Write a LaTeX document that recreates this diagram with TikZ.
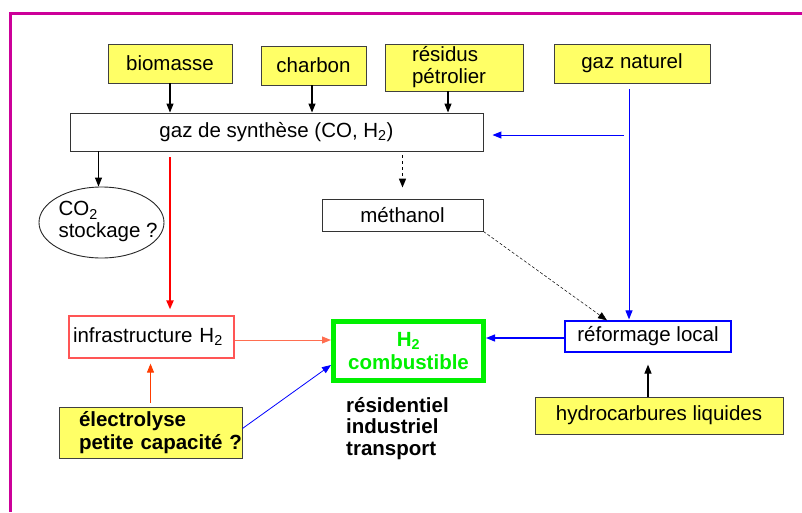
\documentclass[tikz,border=0pt]{standalone}
\usepackage{fontspec}
\setmainfont{Liberation Sans}
\usetikzlibrary{shapes.geometric,arrows.meta,calc}
\definecolor{boxyellow}{RGB}{255,255,102}
\definecolor{framemag}{RGB}{204,0,153}
\definecolor{infrared}{RGB}{255,85,85}
\definecolor{salmon}{RGB}{255,110,80}
\definecolor{orred}{RGB}{255,60,0}
\definecolor{hgreen}{RGB}{0,240,0}
\tikzset{
  yellowbox/.style={draw=black!75, fill=boxyellow, line width=0.9pt, inner sep=0pt, align=center},
  whitebox/.style={draw=black!80, line width=0.9pt, inner sep=0pt, align=center},
  arr/.style={-{Triangle[length=9pt,width=7pt]}, line width=1.2pt},
}
\begin{document}
\begin{tikzpicture}[x=1pt,y=-1pt,font=\fontsize{20.5}{22}\selectfont]
\useasboundingbox (0,0) rectangle (802,512);
\draw[framemag, line width=3pt] (802,13.5) -- (10.5,13.5) -- (10.5,512);

% top sources
\node[yellowbox, minimum width=124pt, minimum height=39pt] (bio) at (170,63.5) {\raisebox{-2pt}{biomasse}};
\node[yellowbox, minimum width=105pt, minimum height=39pt] (cha) at (313.5,65.5) {\raisebox{1pt}{charbon}};
\node[yellowbox, minimum width=138pt, minimum height=47pt, text width=84pt, align=left] (res) at (454,67.5) {résidus\\pétrolier};
\node[yellowbox, minimum width=156pt, minimum height=39pt] (gn) at (632,63.5) {gaz naturel};

% synthesis gas
\node[whitebox, minimum width=413pt, minimum height=38pt] (syn) at (276.5,132) {\raisebox{-2pt}{gaz de synthèse (CO, H\textsubscript{2})}};

% CO2 storage
\node[draw=black!85, line width=0.9pt, ellipse, minimum width=125pt, minimum height=71pt, inner sep=0pt] (co2) at (101.5,222.5)
  {\makebox[86pt][l]{\begin{tabular}{@{}l@{}}CO\textsubscript{2}\\stockage ?\end{tabular}}};

% methanol
\node[whitebox, minimum width=161pt, minimum height=32pt] (meth) at (402.5,215) {méthanol};

% infrastructure
\node[draw=infrared, line width=1.2pt, inner sep=0pt, minimum width=165pt, minimum height=42pt, text width=157pt, align=left] (infra) at (151.5,337) {infrastructure H\textsubscript{2}};

% H2 combustible
\node[draw=hgreen, line width=5pt, inner sep=0pt, minimum width=150pt, minimum height=59pt, align=center, text=hgreen, font=\fontsize{20.5}{23}\selectfont\bfseries] (h2) at (408.5,351) {H\textsubscript{2}\\combustible};

% reformage
\node[draw=blue, line width=1.2pt, inner sep=0pt, minimum width=166pt, minimum height=31pt] (ref) at (648,336.5) {réformage local};

% hydrocarbures
\node[yellowbox, minimum width=248pt, minimum height=37pt] (hc) at (659,415.5) {hydrocarbures liquides};

% electrolyse
\node[yellowbox, minimum width=183pt, minimum height=51pt, text width=183pt, align=left, font=\fontsize{20.5}{23}\selectfont\bfseries] (el) at (150.5,432.5)
  {\hspace*{20pt}électrolyse\\\hspace*{20pt}petite capacité ?};

% uses
\node[anchor=north west, inner sep=0pt, align=left, font=\fontsize{20.5}{21.5}\selectfont\bfseries] (uses) at (346,397) {résidentiel\\industriel\\transport};

% connectors
\draw[arr] (bio.south) -- (bio.south |- syn.north);
\draw[arr] ($(cha.south)+(-1.5,0)$) -- ($(cha.south |- syn.north)+(-1.5,0)$);
\draw[arr] ($(res.south)+(-6,0)$) -- ($(res.south |- syn.north)+(-6,0)$);

\coordinate (gnA) at ($(gn.south)+(-3,6)$);
\coordinate (gnB) at (624,135);
\draw[arr, blue, line width=1pt] (gnA) -- ($(gn.south |- ref.north)+(-3,-1)$);
\draw[arr, blue, line width=1pt] (gnB) -- ($(syn.east)+(9,3)$);

\draw[arr, line width=1pt] ($(syn.south -| co2.north)+(-3,0)$) -- ($(co2.north)+(-3,0)$);
\draw[arr, red, line width=2pt] ($(bio.south |- syn.south)+(0,6)$) -- ($(bio.south |- infra.north)+(0,-6)$);
\draw[arr, dashed, line width=1.6pt] ($(meth.north |- syn.south)+(0,4)$) -- ($(meth.north)+(0,-11)$);
\draw[arr, densely dashed, line width=0.5pt] (meth.south east) -- ($(ref.north)+(-41,0)$);

\draw[arr, salmon, line width=1pt] ($(infra.east)+(0,3)$) -- ($(infra.east -| h2.west)+(0,3)$);
\draw[arr, orred, line width=1pt] ($(el.north)+(0,-4)$) -- ($(infra.south -| el.north)+(0,5)$);
\draw[arr, blue, line width=0.8pt] ($(el.east)+(0,-4)$) -- ($(h2.west)+(0,14)$);
\draw[arr, blue, line width=1.3pt] ($(ref.west)+(0,1.5)$) -- ($(ref.west -| h2.east)+(0,1.5)$);
\draw[arr] (hc.north -| ref.south) -- ($(ref.south)+(0,12)$);
\end{tikzpicture}
\end{document}
